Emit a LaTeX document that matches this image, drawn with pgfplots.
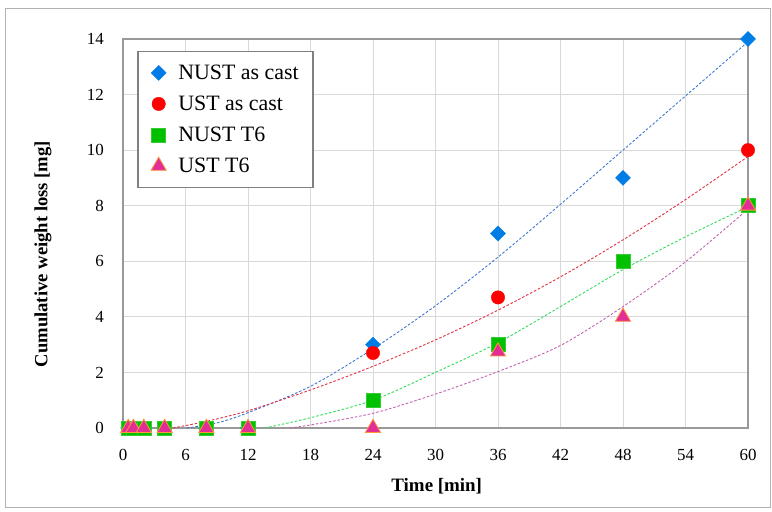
\documentclass[border=0pt]{standalone}
\usepackage{pgfplots}
\usepackage{pgfplotstable}
\pgfplotsset{compat=1.18}
\usepackage{fontspec}
\setmainfont{Liberation Serif}

\definecolor{cblue}{RGB}{0,125,228}
\definecolor{cred}{RGB}{255,0,0}
\definecolor{cgreen}{RGB}{0,192,0}
\definecolor{cpink}{RGB}{226,45,150}
\definecolor{cedge}{RGB}{255,150,60}
\definecolor{tblue}{RGB}{60,120,210}
\definecolor{tred}{RGB}{225,50,70}
\definecolor{tgreen}{RGB}{50,220,90}
\definecolor{tpink}{RGB}{195,100,175}

% measured weight loss, mg
\pgfplotstableread{
t    nac  uac  nt6  ut6
0.5  0    0    0    0
1    0    0    0    0
2    0    0    0    0
4    0    0    0    0
8    0    0    0    0
12   0    0    0    0
24   3    2.7  1    0
36   7    4.7  3    2.75
48   9    6    6    4
60   14   10   8    8
}\wear

\begin{document}
\begin{tikzpicture}
\path (0,0) rectangle (772bp,512bp);
\draw[black!30, line width=1bp] (5bp,4bp) rectangle (770bp,503bp);
\begin{axis}[
  scale only axis,
  width=625bp, height=389bp,
  at={(123bp,84bp)}, anchor=south west,
  xmin=0, xmax=60, ymin=0, ymax=14,
  xtick={0,6,...,60}, ytick={0,2,...,14},
  grid=major,
  grid style={line width=0.8bp, color=black!15},
  axis line style={black!40, line width=1.2bp},
  major tick length=0pt,
  /pgf/number format/assume math mode=true,
  tick label style={font=\fontsize{17}{17}\selectfont},
  xticklabel style={anchor=center, inner sep=0pt, yshift=-27bp},
  yticklabel style={anchor=east, inner sep=0pt, xshift=-19bp},
  xlabel={Time [min]},
  ylabel={Cumulative weight loss [mg]},
  every axis x label/.style={at={(axis description cs:0.502,-0.149)}, anchor=center,
    font=\fontsize{19}{19}\selectfont\bfseries},
  every axis y label/.style={at={(axis description cs:-0.128,0.447)}, anchor=center, rotate=90,
    font=\fontsize{18.7}{19}\selectfont\bfseries},
  clip=false,
  legend cell align=left,
  legend style={at={(0.0229,0.970)}, anchor=north west,
    draw=black!50, line width=1.5bp, fill=white,
    font=\fontsize{22}{22}\selectfont,
    inner xsep=13bp, inner ysep=12.5bp, row sep=13bp, column sep=11bp,
    nodes={inner sep=1bp}},
  legend image code/.code={\draw[#1, line width=0.4bp] plot coordinates {(0.3cm,0cm)};},
]
% trend lines
\addplot[tblue, line width=0.9bp, dash pattern=on 2.6bp off 1.8bp, smooth, forget plot] coordinates {
(6.1,0) (9,0.18) (12,0.55) (18,1.5) (24,2.85) (30,4.4) (36,6.15) (42,8.05) (48,10.0) (54,11.95) (60,13.9)};
\addplot[tred, line width=0.9bp, dash pattern=on 2.6bp off 1.8bp, smooth, forget plot] coordinates {
(4.8,0) (8,0.24) (12,0.62) (18,1.37) (24,2.22) (30,3.17) (36,4.24) (42,5.44) (48,6.77) (54,8.22) (60,9.77)};
\addplot[tgreen, line width=0.9bp, dash pattern=on 2.6bp off 1.8bp, smooth, forget plot] coordinates {
(13.6,0) (18,0.37) (24,1.0) (30,2.0) (36,3.07) (42,4.37) (48,5.7) (54,6.88) (60,7.96)};
\addplot[tpink, line width=0.9bp, dash pattern=on 2.6bp off 1.8bp, smooth, forget plot] coordinates {
(16,0) (18,0.11) (24,0.53) (30,1.22) (36,2.03) (42,2.97) (48,4.37) (54,5.98) (60,7.88)};
% measurements
\addplot[only marks, mark=square*, mark size=5.3bp, mark options={rotate=45, fill=cblue, draw=cblue, line width=0.4bp}] table[x=t, y=nac] {\wear};
\addplot[only marks, mark=*, mark size=6.7bp, mark options={fill=cred, draw=cred, line width=0.4bp}] table[x=t, y=uac] {\wear};
\addplot[only marks, mark=square*, mark size=7bp, mark options={fill=cgreen, draw=cgreen!80!white, line width=0.6bp}] table[x=t, y=nt6] {\wear};
\addplot[only marks, mark=triangle*, mark size=8.8bp, mark options={fill=cpink, draw=cedge, line width=0.8bp}] table[x=t, y=ut6] {\wear};
\legend{NUST as cast, UST as cast, NUST T6, UST T6}
\end{axis}
\end{tikzpicture}
\end{document}
